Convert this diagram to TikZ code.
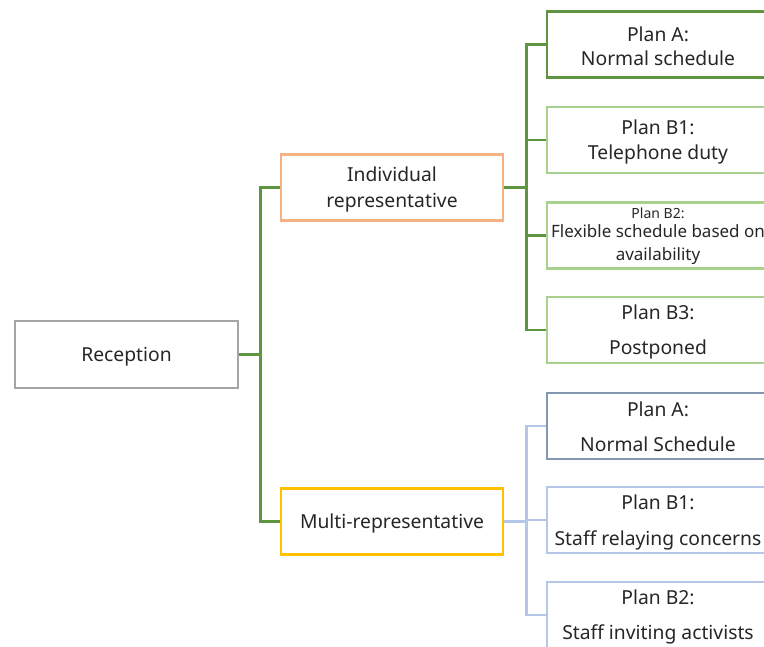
\documentclass[tikz,border=0pt]{standalone}
\usepackage{fontspec}
\setmainfont{Noto Sans}
\definecolor{recgray}{HTML}{A5A5A5}
\definecolor{indorange}{HTML}{F4B183}
\definecolor{multiyellow}{HTML}{FFC000}
\definecolor{darkgreen}{HTML}{5E9540}
\definecolor{lightgreen}{HTML}{A9D18E}
\definecolor{lightblue}{HTML}{B4C7E7}
\definecolor{bluegray}{HTML}{8497B0}
\definecolor{txt}{HTML}{262626}
\begin{document}
\begin{tikzpicture}[x=1pt,y=-1pt,
  box/.style={draw, line width=2.5pt, minimum width=222pt, minimum height=66pt,
    inner sep=0pt},
  lbl/.style={inner sep=0pt, text=txt, align=center,
    font=\fontsize{19.3}{24.5}\selectfont},
  conn/.style={line width=2.5pt},
]
\useasboundingbox (0,0) rectangle (764,647);
\clip (0,0) rectangle (764,647);

% root and second level
\node[box, draw=recgray, minimum width=223pt, minimum height=67pt] (rec) at (126.5,354.5) {};
\node[box, draw=indorange] (ind) at (392,187.5) {};
\node[box, draw=multiyellow] (multi) at (392,521.5) {};

% plans for an individual representative
\node[box, draw=darkgreen] (ia) at (658,44.5) {};
\node[box, draw=lightgreen] (ib1) at (658,140) {};
\node[box, draw=lightgreen] (ib2) at (658,235.5) {};
\node[box, draw=lightgreen] (ib3) at (658,330) {};

% plans for several representatives
\node[box, draw=bluegray] (ma) at (658,426) {};
\node[box, draw=lightblue] (mb1) at (658,520) {};
\node[box, draw=lightblue] (mb2) at (658,615) {};

% box texts, set a little below the box centres
\node[lbl] (rec-t) at ([yshift=-2pt]rec.center) {Reception};
\node[lbl] (ind-t) at ([yshift=-2pt]ind.center) {Individual\\[1pt]representative};
\node[lbl] (multi-t) at ([yshift=-2pt]multi.center) {Multi-representative};
\node[lbl] (ia-t) at ([yshift=-2pt]ia.center) {Plan A:\\Normal schedule};
\node[lbl] (ib1-t) at ([yshift=-2pt]ib1.center) {Plan B1:\\Telephone duty};
\node[lbl, font=\fontsize{17}{23}\selectfont] (ib2-t) at ([yshift=-1pt]ib2.center)
  {{\fontsize{14}{16}\selectfont Plan B2:}\\[-4pt]Flexible schedule based on\\[0pt]availability};
\node[lbl] (ib3-t) at ([yshift=-2pt]ib3.center) {Plan B3:\\[11pt]Postponed};
\node[lbl] (ma-t) at ([yshift=-1pt]ma.center) {Plan A:\\[10pt]Normal Schedule};
\node[lbl] (mb1-t) at ([yshift=-2.5pt]mb1.center) {Plan B1:\\[11pt]Staff relaying concerns};
\node[lbl] (mb2-t) at ([yshift=-2pt]mb2.center) {Plan B2:\\[10pt]Staff inviting activists};

% connectors
\draw[conn, darkgreen] (rec.east) -- ++(21,0) |- (ind.west);
\draw[conn, darkgreen] (rec.east) -- ++(21,0) |- (multi.west);
\foreach \t in {ia,ib1,ib2,ib3}
  \draw[conn, darkgreen] (ind.east) -- ++(22,0) |- (\t.west);
\foreach \t in {ma,mb1,mb2}
  \draw[conn, lightblue] (multi.east) -- ++(22,0) |- (\t.west);
\end{tikzpicture}
\end{document}
